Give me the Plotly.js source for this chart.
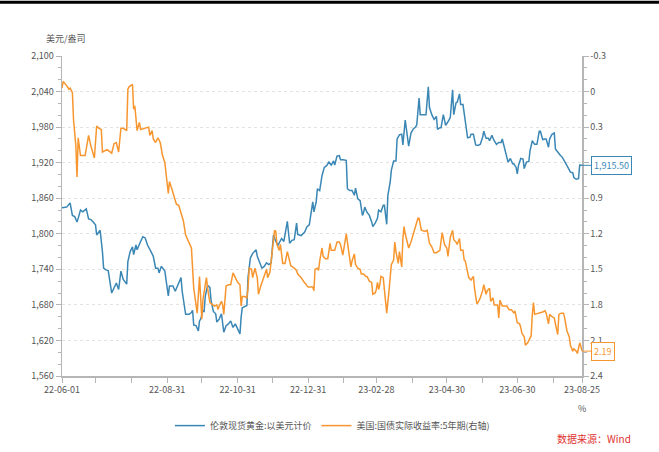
<!DOCTYPE html>
<html>
<head>
<meta charset="utf-8">
<script src="https://cdn.plot.ly/plotly-3.0.1.min.js"></script>
<style>html,body{margin:0;padding:0;background:#fff;}#chart{width:659px;height:452px;}</style>
</head>
<body>
<div id="chart"></div>
<script>
// ---- data ----
const seriesNames = ['伦敦现货黄金:以美元计价', '美国:国债实际收益率:5年期(右轴)'];

const goldDates = [
'2022-06-01','2022-06-05','2022-06-08','2022-06-10','2022-06-12','2022-06-14','2022-06-15','2022-06-17','2022-06-19','2022-06-21','2022-06-22','2022-06-24','2022-06-26','2022-06-28','2022-06-30',
'2022-07-01','2022-07-03','2022-07-04','2022-07-06','2022-07-07','2022-07-09','2022-07-11','2022-07-14','2022-07-16','2022-07-18','2022-07-20','2022-07-22','2022-07-24','2022-07-27','2022-07-28','2022-07-30',
'2022-08-01','2022-08-02','2022-08-04','2022-08-05','2022-08-08','2022-08-10','2022-08-12','2022-08-14','2022-08-17','2022-08-19','2022-08-21','2022-08-23','2022-08-24','2022-08-26','2022-08-29',
'2022-09-01','2022-09-02','2022-09-05','2022-09-07','2022-09-09','2022-09-12','2022-09-13','2022-09-16','2022-09-19','2022-09-21','2022-09-22','2022-09-23','2022-09-25','2022-09-27','2022-09-28','2022-09-29',
'2022-10-01','2022-10-02','2022-10-03','2022-10-05','2022-10-07','2022-10-08','2022-10-10','2022-10-12','2022-10-13','2022-10-15','2022-10-17','2022-10-19','2022-10-21','2022-10-23','2022-10-25','2022-10-27','2022-10-29','2022-10-31',
'2022-11-02','2022-11-03','2022-11-04','2022-11-06','2022-11-08','2022-11-09','2022-11-11','2022-11-13','2022-11-16','2022-11-17','2022-11-19','2022-11-21','2022-11-23','2022-11-25','2022-11-27','2022-11-29',
'2022-12-01','2022-12-03','2022-12-05','2022-12-07','2022-12-08','2022-12-10','2022-12-13','2022-12-15','2022-12-17','2022-12-19','2022-12-21','2022-12-22','2022-12-25','2022-12-28','2022-12-30',
'2023-01-01','2023-01-02','2023-01-03','2023-01-04','2023-01-05','2023-01-07','2023-01-08','2023-01-10','2023-01-12','2023-01-14','2023-01-16','2023-01-18','2023-01-20','2023-01-22','2023-01-23','2023-01-25','2023-01-27','2023-01-28','2023-01-30',
'2023-02-02','2023-02-03','2023-02-05','2023-02-07','2023-02-09','2023-02-10','2023-02-12','2023-02-14','2023-02-16','2023-02-17','2023-02-18','2023-02-20','2023-02-22','2023-02-24','2023-02-25','2023-02-27',
'2023-03-01','2023-03-02','2023-03-04','2023-03-06','2023-03-07','2023-03-09','2023-03-10','2023-03-12','2023-03-13','2023-03-15','2023-03-17','2023-03-18','2023-03-20','2023-03-22','2023-03-23','2023-03-25','2023-03-26','2023-03-28','2023-03-30',
'2023-04-01','2023-04-03','2023-04-04','2023-04-06','2023-04-07','2023-04-09','2023-04-11','2023-04-12','2023-04-14','2023-04-15','2023-04-17','2023-04-19','2023-04-21','2023-04-22','2023-04-24','2023-04-25','2023-04-27','2023-04-29',
'2023-05-01','2023-05-03','2023-05-05','2023-05-06','2023-05-08','2023-05-09','2023-05-11','2023-05-12','2023-05-14','2023-05-16','2023-05-18','2023-05-20','2023-05-21','2023-05-23','2023-05-25','2023-05-27','2023-05-29','2023-05-31',
'2023-06-01','2023-06-03','2023-06-05','2023-06-06','2023-06-08','2023-06-10','2023-06-12','2023-06-14','2023-06-16','2023-06-17','2023-06-19','2023-06-21','2023-06-22','2023-06-24','2023-06-26','2023-06-27','2023-06-29','2023-06-30',
'2023-07-01','2023-07-03','2023-07-05','2023-07-06','2023-07-08','2023-07-10','2023-07-11','2023-07-13','2023-07-15','2023-07-17','2023-07-19','2023-07-20','2023-07-22','2023-07-24','2023-07-25','2023-07-27','2023-07-28','2023-07-30',
'2023-08-01','2023-08-02','2023-08-04','2023-08-06','2023-08-08','2023-08-10','2023-08-12','2023-08-15','2023-08-17','2023-08-18','2023-08-20','2023-08-22','2023-08-23','2023-08-25'
];
const goldValues = [
1844,1845,1852,1831,1829,1820,1826,1840,1837,1840,1842,1825,1824,1820,1815,
1798,1804,1806,1770,1742,1739,1738,1700,1710,1717,1706,1737,1723,1715,1753,1770,
1778,1765,1781,1773,1787,1795,1793,1781,1770,1762,1742,1742,1734,1745,1737,
1695,1712,1712,1703,1712,1726,1703,1664,1664,1667,1671,1646,1645,1636,1653,1656,
1670,1669,1695,1713,1709,1687,1669,1665,1651,1656,1665,1634,1645,1648,1653,1642,1648,1639,
1631,1659,1675,1677,1679,1726,1759,1767,1773,1762,1751,1742,1745,1751,1748,1751,
1798,1787,1781,1788,1792,1787,1821,1784,1789,1790,1818,1799,1797,1803,1812,
1815,1829,1837,1854,1837,1854,1876,1873,1898,1912,1915,1921,1916,1923,1916,1931,1932,1925,1925,
1924,1876,1873,1873,1865,1877,1859,1856,1831,1836,1845,1836,1831,1820,1812,1818,
1826,1840,1837,1848,1848,1816,1865,1887,1907,1923,1923,1960,1967,1968,1950,1992,1976,1948,1970,
1977,1980,1984,2029,2001,2001,2001,2001,2048,2013,2001,1993,1998,1976,1979,1979,2001,1983,
1989,1996,2043,2001,2021,2022,2036,2018,2018,1993,1962,1963,1968,1968,1950,1949,1951,1963,
1973,1961,1961,1957,1966,1957,1951,1954,1954,1960,1944,1931,1921,1927,1918,1918,1912,1901,
1915,1927,1926,1910,1921,1922,1940,1957,1951,1951,1973,1973,1959,1960,1960,1946,1960,1968,
1970,1943,1937,1933,1929,1923,1915,1904,1903,1895,1892,1893,1916,1915.5
];

const tipsDates = [
'2022-06-01','2022-06-02','2022-06-05','2022-06-07','2022-06-08','2022-06-10','2022-06-11','2022-06-13','2022-06-14','2022-06-15','2022-06-17','2022-06-19','2022-06-21','2022-06-24','2022-06-26','2022-06-29',
'2022-07-01','2022-07-03','2022-07-05','2022-07-06','2022-07-08','2022-07-10','2022-07-14','2022-07-16','2022-07-18','2022-07-20','2022-07-22','2022-07-24','2022-07-27','2022-07-28','2022-07-29',
'2022-08-01','2022-08-02','2022-08-03','2022-08-05','2022-08-07','2022-08-08','2022-08-11','2022-08-13','2022-08-15','2022-08-16','2022-08-18','2022-08-19','2022-08-21','2022-08-23','2022-08-25','2022-08-27','2022-08-29',
'2022-09-01','2022-09-02','2022-09-04','2022-09-06','2022-09-08','2022-09-10','2022-09-12','2022-09-14','2022-09-16','2022-09-18','2022-09-21','2022-09-22','2022-09-23','2022-09-25','2022-09-26','2022-09-28','2022-09-29','2022-09-30',
'2022-10-01','2022-10-03','2022-10-04','2022-10-05','2022-10-07','2022-10-08','2022-10-11','2022-10-13','2022-10-14','2022-10-15','2022-10-17','2022-10-18','2022-10-19','2022-10-21','2022-10-23','2022-10-25','2022-10-27','2022-10-29','2022-10-31',
'2022-11-02','2022-11-03','2022-11-04','2022-11-06','2022-11-08','2022-11-09','2022-11-10','2022-11-12','2022-11-13','2022-11-15','2022-11-17','2022-11-18','2022-11-20','2022-11-23','2022-11-25','2022-11-26','2022-11-28','2022-11-29','2022-11-30',
'2022-12-02','2022-12-03','2022-12-04','2022-12-06','2022-12-07','2022-12-09','2022-12-11','2022-12-13','2022-12-14','2022-12-16','2022-12-19','2022-12-21','2022-12-22','2022-12-25','2022-12-27','2022-12-29','2022-12-31',
'2023-01-02','2023-01-04','2023-01-05','2023-01-06','2023-01-08','2023-01-09','2023-01-10','2023-01-12','2023-01-13','2023-01-15','2023-01-17','2023-01-19','2023-01-20','2023-01-23','2023-01-25','2023-01-27','2023-01-28','2023-01-30',
'2023-02-02','2023-02-03','2023-02-04','2023-02-06','2023-02-07','2023-02-09','2023-02-10','2023-02-12','2023-02-14','2023-02-15','2023-02-17','2023-02-19','2023-02-20','2023-02-22','2023-02-24','2023-02-25','2023-02-27','2023-02-28',
'2023-03-01','2023-03-02','2023-03-03','2023-03-04','2023-03-06','2023-03-07','2023-03-08','2023-03-09','2023-03-11','2023-03-12','2023-03-13','2023-03-15','2023-03-16','2023-03-17','2023-03-19','2023-03-20','2023-03-22','2023-03-23','2023-03-24','2023-03-25','2023-03-27','2023-03-28','2023-03-30',
'2023-04-01','2023-04-02','2023-04-03','2023-04-05','2023-04-06','2023-04-08','2023-04-11','2023-04-13','2023-04-15','2023-04-17','2023-04-19','2023-04-21','2023-04-24','2023-04-25','2023-04-26','2023-04-28','2023-04-30',
'2023-05-01','2023-05-03','2023-05-05','2023-05-06','2023-05-08','2023-05-09','2023-05-11','2023-05-12','2023-05-14','2023-05-15','2023-05-16','2023-05-18','2023-05-19','2023-05-21','2023-05-23','2023-05-24','2023-05-26','2023-05-27','2023-05-29','2023-05-31',
'2023-06-01','2023-06-03','2023-06-04','2023-06-06','2023-06-07','2023-06-09','2023-06-10','2023-06-11','2023-06-13','2023-06-14','2023-06-15','2023-06-17','2023-06-19','2023-06-21','2023-06-23','2023-06-25','2023-06-27','2023-06-28','2023-06-30',
'2023-07-02','2023-07-03','2023-07-04','2023-07-06','2023-07-07','2023-07-09','2023-07-11','2023-07-12','2023-07-13','2023-07-14','2023-07-15','2023-07-18','2023-07-20','2023-07-22','2023-07-24','2023-07-25','2023-07-27','2023-07-28','2023-07-30',
'2023-08-01','2023-08-02','2023-08-04','2023-08-05','2023-08-07','2023-08-09','2023-08-10','2023-08-12','2023-08-14','2023-08-15','2023-08-17','2023-08-18','2023-08-20','2023-08-21','2023-08-23','2023-08-24','2023-08-25'
];
const tipsValues = [
-0.03,-0.085,-0.05,-0.02,-0.03,0.01,0.24,0.46,0.72,0.39,0.54,0.54,0.54,0.37,0.46,0.56,
0.29,0.31,0.32,0.51,0.50,0.49,0.52,0.44,0.43,0.51,0.31,0.31,0.33,-0.02,-0.04,
-0.06,0.15,0.12,0.33,0.26,0.32,0.31,0.30,0.30,0.37,0.33,0.40,0.43,0.39,0.43,0.54,0.60,
0.86,0.76,0.82,0.88,0.95,0.96,1.02,1.09,1.21,1.26,1.32,1.49,1.66,1.80,1.87,1.56,1.77,1.92,
1.75,1.60,1.57,1.66,1.78,1.79,1.81,1.80,1.84,1.81,1.77,1.80,1.88,1.64,1.63,1.63,1.53,1.57,1.61,
1.63,1.81,1.73,1.73,1.74,1.66,1.49,1.50,1.57,1.49,1.57,1.71,1.64,1.56,1.50,1.57,1.52,1.43,1.35,
1.17,1.18,1.29,1.34,1.29,1.45,1.45,1.35,1.39,1.47,1.49,1.51,1.54,1.57,1.60,1.63,1.65,
1.65,1.65,1.68,1.50,1.49,1.51,1.43,1.32,1.39,1.41,1.41,1.28,1.34,1.34,1.27,1.27,1.29,1.38,
1.20,1.27,1.38,1.48,1.43,1.37,1.46,1.49,1.50,1.54,1.54,1.56,1.56,1.60,1.61,1.71,1.70,1.67,
1.61,1.67,1.63,1.56,1.57,1.66,1.77,1.87,1.68,1.54,1.46,1.42,1.27,1.35,1.45,1.35,1.48,1.24,1.14,1.20,1.27,1.32,1.27,
1.20,1.17,1.14,1.07,1.07,1.17,1.18,1.17,1.28,1.31,1.36,1.36,1.34,1.28,1.19,1.29,1.32,
1.39,1.23,1.17,1.25,1.27,1.29,1.24,1.34,1.34,1.42,1.43,1.54,1.57,1.59,1.56,1.66,1.79,1.78,1.74,1.68,
1.63,1.71,1.68,1.66,1.77,1.74,1.80,1.80,1.80,1.91,1.76,1.81,1.81,1.81,1.84,1.84,1.87,1.85,1.95,
1.96,1.99,2.04,2.07,2.14,2.12,2.07,2.06,1.88,1.78,1.88,1.87,1.87,1.86,1.85,1.87,1.96,1.88,1.90,
1.91,1.96,2.05,1.88,1.87,1.87,1.91,2.02,2.07,2.14,2.19,2.17,2.19,2.21,2.12,2.15,2.19
];

const xTickVals = ['2022-06-01','2022-06-30','2022-07-31','2022-08-31','2022-09-30','2022-10-31','2022-11-30','2022-12-31','2023-01-31','2023-02-28','2023-03-31','2023-04-30','2023-05-31','2023-06-30','2023-07-31','2023-08-25'];
const xTickText = ['22-06-01','','','22-08-31','','22-10-31','','22-12-31','','23-02-28','','23-04-30','','23-06-30','','23-08-25'];

// right axis ticks (0.6 is hidden behind the last-value label in the reference)
const y2TickVals = [-0.3, 0, 0.3, 0.6, 0.9, 1.2, 1.5, 1.8, 2.1, 2.4];
const y2TickText = ['-0.3', '0', '0.3', '', '0.9', '1.2', '1.5', '1.8', '2.1', '2.4'];

// ---- styles ----
const BLUE = '#3a87b5';
const ORANGE = '#f7962f';
const AXIS = '#b5b5b5';
const TXT = '#555555';
const FONT = '"Noto Sans CJK SC", "Noto Sans", sans-serif';

const fmtGold = v => v.toLocaleString('en-US', {minimumFractionDigits: 2, maximumFractionDigits: 2});

const traces = [
  {x: goldDates, y: goldValues, name: seriesNames[0], type: 'scatter', mode: 'lines',
   line: {color: BLUE, width: 1.5}, yaxis: 'y'},
  {x: tipsDates, y: tipsValues, name: seriesNames[1], type: 'scatter', mode: 'lines',
   line: {color: ORANGE, width: 1.5}, yaxis: 'y2'}
];

const lastG = goldValues[goldValues.length - 1];
const lastT = tipsValues[tipsValues.length - 1];

const layout = {
  width: 659, height: 452,
  margin: {l: 62, r: 77, t: 56, b: 73},
  paper_bgcolor: '#fff', plot_bgcolor: '#fff',
  font: {family: FONT, size: 9, color: TXT},
  showlegend: true,
  legend: {orientation: 'h', x: 0.52, xanchor: 'center', y: -0.155, yanchor: 'middle',
           font: {size: 9, color: TXT}, itemwidth: 30, tracegroupgap: 0},
  xaxis: {type: 'date', range: ['2022-06-01', '2023-08-25'],
          tickmode: 'array', tickvals: xTickVals, ticktext: xTickText,
          showline: true, linecolor: AXIS, linewidth: 1.5, ticks: 'outside', ticklen: 5, tickcolor: AXIS,
          showgrid: false, zeroline: false, tickfont: {size: 9, color: TXT}, fixedrange: true},
  yaxis: {range: [1560, 2100], dtick: 60, tick0: 1560, tickformat: ',.0f',
          showline: true, linecolor: AXIS, linewidth: 1.5, ticks: 'outside', ticklen: 5, tickcolor: AXIS,
          minor: {dtick: 20, tick0: 1560, ticks: 'outside', ticklen: 3, tickcolor: AXIS, showgrid: false},
          showgrid: true, gridcolor: '#e3e3e3', griddash: '3px,3px', gridwidth: 1,
          zeroline: false, tickfont: {size: 9, color: TXT}},
  yaxis2: {overlaying: 'y', side: 'right', range: [2.4, -0.3],
          tickmode: 'array', tickvals: y2TickVals, ticktext: y2TickText,
          showline: true, linecolor: AXIS, linewidth: 1.5, ticks: 'outside', ticklen: 5, tickcolor: AXIS,
          minor: {dtick: 0.1, tick0: 0, ticks: 'outside', ticklen: 3, tickcolor: AXIS, showgrid: false},
          showgrid: false, zeroline: false, tickfont: {size: 9, color: TXT}},
  shapes: [
    {type: 'line', xref: 'paper', yref: 'paper', x0: -0.13, x1: 1.16, y0: 1.168, y1: 1.168,
     line: {color: '#000', width: 3}}
  ],
  annotations: [
    {xref: 'paper', yref: 'paper', x: -0.035, y: 1.055, xanchor: 'left', yanchor: 'middle',
     text: '美元/盎司', showarrow: false, font: {size: 9, color: TXT}},
    {xref: 'paper', yref: 'paper', x: 1.0, y: -0.1, xanchor: 'center', yanchor: 'middle',
     text: '%', showarrow: false, font: {size: 9, color: TXT}},
    {xref: 'paper', yref: 'paper', x: 1.098, y: -0.196, xanchor: 'right', yanchor: 'middle',
     text: '数据来源：Wind', showarrow: false, font: {size: 10, color: '#e0312f'}},
    {x: goldDates[goldDates.length - 1], y: lastG, xref: 'x', yref: 'y',
     text: fmtGold(lastG), showarrow: true, arrowhead: 0, arrowwidth: 1, arrowcolor: BLUE,
     ax: 9, ay: 0, xanchor: 'left', yanchor: 'middle',
     bordercolor: BLUE, borderwidth: 1, borderpad: 2, bgcolor: '#fff',
     font: {size: 9, color: BLUE}},
    {x: tipsDates[tipsDates.length - 1], y: lastT, xref: 'x', yref: 'y2',
     text: lastT.toFixed(2), showarrow: true, arrowhead: 0, arrowwidth: 1, arrowcolor: ORANGE,
     ax: 9, ay: 0, xanchor: 'left', yanchor: 'middle',
     bordercolor: ORANGE, borderwidth: 1, borderpad: 2, bgcolor: '#fff',
     font: {size: 9, color: ORANGE}}
  ]
};

Plotly.newPlot('chart', traces, layout, {staticPlot: true, displayModeBar: false});
</script>
</body>
</html>
